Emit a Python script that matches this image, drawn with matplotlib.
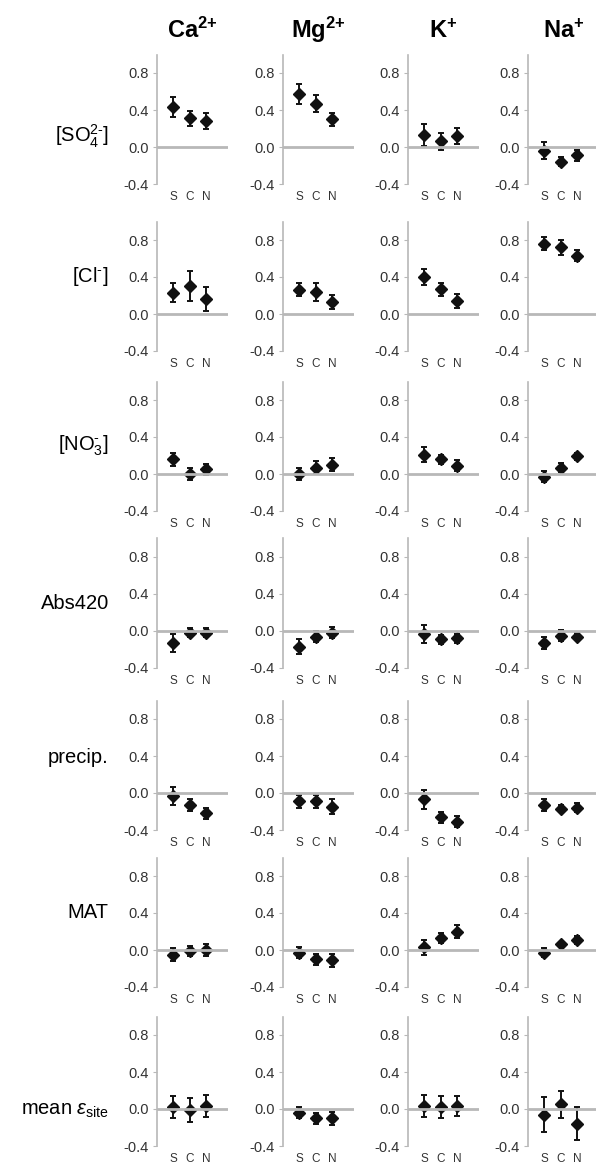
import numpy as np
import matplotlib
matplotlib.use('Agg')
import matplotlib.pyplot as plt

plt.rcParams['font.family'] = ['Liberation Sans', 'DejaVu Sans']
plt.rcParams['mathtext.fontset'] = 'custom'
plt.rcParams['mathtext.rm'] = 'Liberation Sans'
plt.rcParams['mathtext.it'] = 'Liberation Sans:italic'
plt.rcParams['mathtext.bf'] = 'Liberation Sans:bold'

# columns (cations) and rows (predictors)
ions = [r'$\mathbf{Ca}^{\mathbf{2{+}}}$', r'$\mathbf{Mg}^{\mathbf{2{+}}}$',
        r'$\mathbf{K}^{\mathbf{+}}$', r'$\mathbf{Na}^{\mathbf{+}}$']
predictors = [r'[SO$_4^{2\text{-}}$]', r'[Cl$^{\text{-}}$]', r'[NO$_3^{\text{-}}$]', 'Abs420',
              'precip.', 'MAT', r'mean $\varepsilon_{\mathrm{site}}$']
sites = ['S', 'C', 'N']

# mean estimate per row, column, site
so4_mean = [[0.43, 0.31, 0.28], [0.57, 0.47, 0.30], [0.13, 0.06, 0.12], [-0.04, -0.16, -0.09]]
cl_mean = [[0.23, 0.30, 0.16], [0.26, 0.24, 0.13], [0.40, 0.27, 0.14], [0.76, 0.72, 0.63]]
no3_mean = [[0.16, 0.00, 0.05], [0.00, 0.07, 0.10], [0.21, 0.16, 0.09], [-0.03, 0.07, 0.19]]
abs_mean = [[-0.13, -0.02, -0.02], [-0.17, -0.06, -0.02], [-0.03, -0.09, -0.08], [-0.13, -0.05, -0.06]]
precip_mean = [[-0.03, -0.13, -0.22], [-0.09, -0.09, -0.15], [-0.07, -0.26, -0.31], [-0.13, -0.17, -0.16]]
mat_mean = [[-0.05, -0.01, 0.00], [-0.03, -0.10, -0.11], [0.03, 0.13, 0.20], [-0.03, 0.06, 0.11]]
eps_mean = [[0.02, -0.01, 0.03], [-0.04, -0.10, -0.10], [0.03, 0.02, 0.03], [-0.06, 0.05, -0.16]]

# error bar half widths
so4_err = [[0.11, 0.08, 0.09], [0.11, 0.09, 0.07], [0.12, 0.09, 0.09], [0.09, 0.05, 0.06]]
cl_err = [[0.10, 0.16, 0.13], [0.07, 0.10, 0.08], [0.09, 0.07, 0.08], [0.07, 0.08, 0.06]]
no3_err = [[0.07, 0.06, 0.06], [0.06, 0.07, 0.07], [0.08, 0.05, 0.06], [0.06, 0.05, 0.04]]
abs_err = [[0.10, 0.05, 0.05], [0.08, 0.06, 0.06], [0.10, 0.05, 0.05], [0.07, 0.06, 0.04]]
precip_err = [[0.10, 0.06, 0.06], [0.07, 0.07, 0.08], [0.10, 0.06, 0.06], [0.06, 0.04, 0.05]]
mat_err = [[0.07, 0.05, 0.06], [0.06, 0.06, 0.07], [0.08, 0.05, 0.07], [0.05, 0.03, 0.04]]
eps_err = [[0.12, 0.13, 0.12], [0.06, 0.06, 0.07], [0.12, 0.12, 0.11], [0.19, 0.15, 0.18]]

means = [so4_mean, cl_mean, no3_mean, abs_mean, precip_mean, mat_mean, eps_mean]
errs = [so4_err, cl_err, no3_err, abs_err, precip_err, mat_err, eps_err]

# label height within each row (data units)
label_y = [0.12, 0.4, 0.3, 0.3, 0.38, 0.4, -0.02]

W, H = 596, 1169
fig = plt.figure(figsize=(W / 100, H / 100), dpi=100)

col_left = [157, 283, 408, 528]
row_top = [54.5, 221.5, 381.5, 538.5, 700.5, 857.5, 1016.5]
ax_w, ax_h = 71, 129.5
gray = '#b8b8b8'
x = np.arange(1, 4)

for r in range(len(predictors)):
    for c in range(len(ions)):
        ax = fig.add_axes([col_left[c] / W, 1 - (row_top[r] + ax_h) / H, ax_w / W, ax_h / H])
        ax.axhline(0, color=gray, lw=2, zorder=3)
        ax.errorbar(x, means[r][c], yerr=errs[r][c], fmt='D', color='#111111',
                    ms=6, elinewidth=1.4, capsize=2.5, capthick=1.4, zorder=2)
        ax.set_xlim(0.03, 4.3)
        ax.set_ylim(-0.4, 1.0)
        ax.set_yticks([-0.4, 0.0, 0.4, 0.8])
        ax.set_yticklabels(['-0.4', '0.0', '0.4', '0.8'])
        ax.set_xticks(x)
        ax.set_xticklabels(sites, fontsize=8.5, color='#333333')
        ax.tick_params(axis='x', length=0, pad=5)
        ax.tick_params(axis='y', length=3, width=0.8, color=gray, labelsize=10.5,
                       labelcolor='#333333', pad=3)
        for s in ['top', 'right', 'bottom']:
            ax.spines[s].set_visible(False)
        ax.spines['left'].set_color(gray)
        ax.spines['left'].set_linewidth(1.2)
        ax.spines['left'].set_bounds(-0.4, 1.0)
        ax.patch.set_alpha(0)
        if r == 0:
            ax.set_title(ions[c], fontsize=17, pad=12)
        if c == 0:
            ax.text(-0.68, label_y[r], predictors[r], fontsize=14.5, ha='right', va='center',
                    transform=ax.get_yaxis_transform(), clip_on=False)

fig.savefig('out.png', dpi=100, facecolor='white')
